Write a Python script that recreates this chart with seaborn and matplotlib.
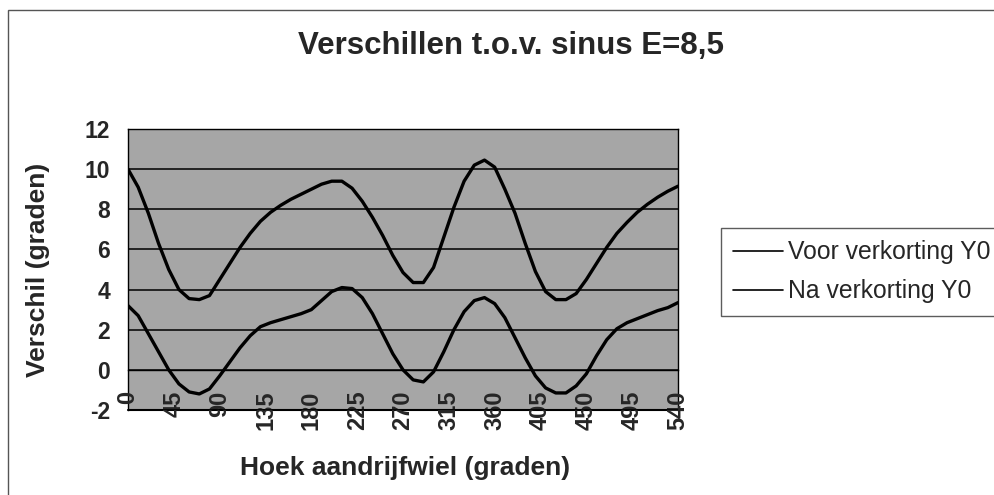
import numpy as np
import pandas as pd
import matplotlib
matplotlib.use("Agg")
import matplotlib.pyplot as plt
from matplotlib.lines import Line2D
from matplotlib.patches import Rectangle
import seaborn as sns

# ---- data ----
hoek = list(range(0, 541, 10))
voor = [10.0, 9.1, 7.8, 6.3, 5.0, 4.0, 3.55, 3.5, 3.7, 4.5,
        5.3, 6.1, 6.8, 7.4, 7.85, 8.2, 8.5, 8.75, 9.0, 9.25,
        9.4, 9.4, 9.05, 8.4, 7.6, 6.7, 5.7, 4.85, 4.35, 4.35,
        5.1, 6.6, 8.1, 9.4, 10.2, 10.45, 10.1, 9.0, 7.8, 6.3,
        4.9, 3.9, 3.5, 3.5, 3.8, 4.5, 5.3, 6.1, 6.8, 7.35,
        7.85, 8.25, 8.6, 8.9, 9.15]
na = [3.2, 2.7, 1.8, 0.9, 0.0, -0.7, -1.1, -1.2, -0.95, -0.3,
      0.4, 1.1, 1.7, 2.15, 2.35, 2.5, 2.65, 2.8, 3.0, 3.45,
      3.9, 4.1, 4.05, 3.6, 2.8, 1.8, 0.8, 0.0, -0.5, -0.6,
      -0.1, 0.9, 2.0, 2.9, 3.45, 3.6, 3.3, 2.6, 1.6, 0.6,
      -0.3, -0.9, -1.15, -1.15, -0.8, -0.2, 0.7, 1.5, 2.05, 2.35,
      2.55, 2.75, 2.95, 3.1, 3.35]
series_names = ["Voor verkorting Y0", "Na verkorting Y0"]
x_ticks = [0, 45, 90, 135, 180, 225, 270, 315, 360, 405, 450, 495, 540]
y_ticks = [-2, 0, 2, 4, 6, 8, 10, 12]

title = "Verschillen t.o.v. sinus E=8,5"
xlabel = "Hoek aandrijfwiel (graden)"
ylabel = "Verschil (graden)"

df = pd.DataFrame({
    "hoek": hoek * 2,
    "waarde": voor + na,
    "reeks": [series_names[0]] * len(hoek) + [series_names[1]] * len(hoek),
})

sns.set_style("white")
plt.rcParams["font.family"] = ["Liberation Sans", "DejaVu Sans"]

W, H = 995, 495
fig = plt.figure(figsize=(W / 100, H / 100), dpi=100)
ax = fig.add_axes([128 / W, 1 - 410 / H, 550 / W, 281 / H])
ax.set_facecolor("#a6a6a6")

sns.lineplot(data=df, x="hoek", y="waarde", hue="reeks",
             palette=["black", "black"], linewidth=2.4, legend=False, ax=ax,
             zorder=3)

for s in ["top", "right", "left", "bottom"]:
    ax.spines[s].set_visible(True)
    ax.spines[s].set_color("black")
    ax.spines[s].set_linewidth(1)
ax.spines["bottom"].set_position(("data", 0))

ax.set_xlim(0, 540)
ax.set_ylim(-2, 12)
ax.set_xticks(x_ticks)
ax.set_yticks(y_ticks)
ax.set_xticklabels([str(v) for v in x_ticks], rotation=90, fontsize=17,
                   fontweight="bold", va="top", ha="center")
ax.set_yticklabels([str(v) for v in y_ticks], fontsize=16.5, fontweight="bold")
ax.tick_params(axis="x", direction="out", length=5, width=1, color="black", pad=10)
ax.tick_params(axis="y", direction="out", length=5, width=1, color="black", pad=8)
ax.yaxis.grid(True, color="black", linewidth=1.1)
ax.set_axisbelow(False)
ax.axhline(-2, color="black", linewidth=1.5, clip_on=False)

ax.set_xlabel(xlabel, fontsize=19, fontweight="bold")
ax.set_ylabel(ylabel, fontsize=19, fontweight="bold")
ax.xaxis.set_label_coords(0.503, -0.165)
ax.yaxis.set_label_coords(-0.142, 0.5)

fig.text(511 / W, 1 - 46 / H, title, fontsize=22.5, fontweight="bold",
         ha="center", va="center")

handles = [Line2D([], [], color="black", linewidth=1.2) for _ in series_names]
leg = fig.legend(handles, series_names, loc="upper left",
                 bbox_to_anchor=(721 / W, 1 - 228 / H), fontsize=17.8,
                 frameon=True, fancybox=False, handlelength=2.0,
                 handletextpad=0.2, borderpad=0.5, labelspacing=0.6,
                 borderaxespad=0)
leg.get_frame().set_edgecolor("#333333")
leg.get_frame().set_linewidth(1)

fig.patches.append(Rectangle((8 / W, -0.02), 1.0, 1 - 10 / H + 0.02,
                             transform=fig.transFigure, fill=False,
                             edgecolor="#555555", linewidth=1))

fig.savefig("out.png", dpi=100)
